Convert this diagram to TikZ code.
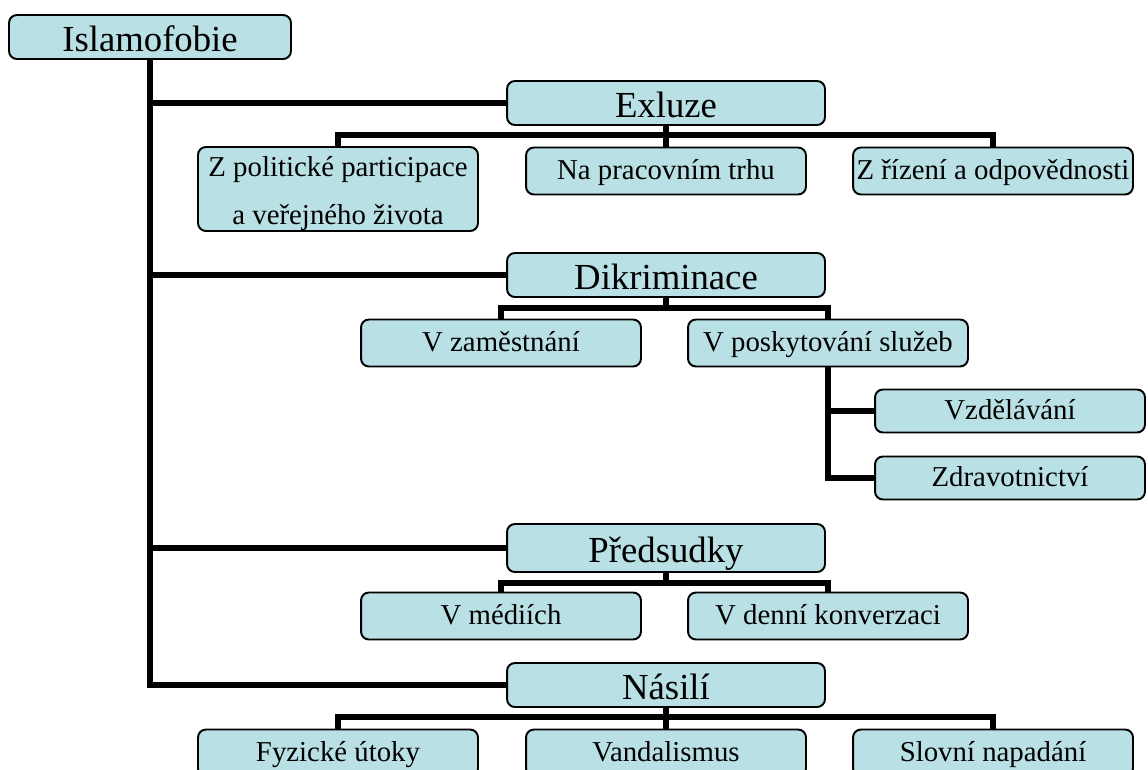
\documentclass[tikz,border=0pt]{standalone}
\usepackage{fontspec}
\setmainfont{Liberation Serif}
\definecolor{boxfill}{RGB}{185,224,228}

\begin{document}
\begin{tikzpicture}[x=0.02cm, y=-0.02cm,
  box/.style={draw=black, line width=1.1pt, fill=boxfill, rounded corners=4.5pt, inner sep=0pt, align=center},
  big/.style={box, minimum width=6.36cm, minimum height=0.88cm, text height=17pt, text depth=0pt, font=\fontsize{20.9}{25}\selectfont},
  tall/.style={box, minimum width=5.6cm, minimum height=1.68cm, font=\fontsize{16.4}{27}\selectfont},
  small/.style={tall, minimum height=0.94cm, text height=10pt, text depth=0pt},
  link/.style={line width=3.2pt}]

\clip (0,0) rectangle (1148,769);

\node[big, minimum width=5.64cm] (root) at (150,37) {Islamofobie};

\node[big] (exl) at (666,103) {Exluze};
\node[tall] (ex1) at (338,189) {\raisebox{-6.5pt}[0pt][0pt]{Z politické participace}\\\raisebox{-6.5pt}[0pt][0pt]{a veřejného života}};
\node[small] (ex2) at (666,171) {Na pracovním trhu};
\node[small] (ex3) at (993,171) {Z řízení a odpovědnosti};
\coordinate (exbar) at (666,135);

\node[big] (dik) at (666,275) {Dikriminace};
\node[small] (dk1) at (501,343) {V zaměstnání};
\node[small] (dk2) at (828,343) {V poskytování služeb};
\node[small, minimum width=5.4cm, minimum height=0.86cm] (dk3) at (1010,411) {Vzdělávání};
\node[small, minimum width=5.4cm, minimum height=0.86cm] (dk4) at (1010,478) {Zdravotnictví};
\coordinate (dkbar) at (666,308);

\node[big, minimum height=0.96cm] (pre) at (666,548) {Předsudky};
\node[small] (pr1) at (501,616) {V médiích};
\node[small] (pr2) at (828,616) {V denní konverzaci};
\coordinate (prbar) at (666,583);

\node[big] (nas) at (666,685) {Násilí};
\node[small] (ns1) at (338,753) {Fyzické útoky};
\node[small] (ns2) at (666,753) {Vandalismus};
\node[small] (ns3) at (993,753) {Slovní napadání};
\coordinate (nsbar) at (666,717);

\draw[link] (root.south) |- (exl.west);
\draw[link] (root.south) |- (dik.west);
\draw[link] (root.south) |- (pre.west);
\draw[link] (root.south) |- (nas.west);

\draw[link] (exl.south) -- (ex2.north);
\draw[link] (ex1.north) |- (exbar) -| (ex3.north);

\draw[link] (dik.south) -- (dkbar);
\draw[link] (dk1.north) |- (dkbar) -| (dk2.north);
\draw[link] (dk2.south) |- (dk3.west);
\draw[link] (dk2.south) |- (dk4.west);

\draw[link] (pre.south) -- (prbar);
\draw[link] (pr1.north) |- (prbar) -| (pr2.north);

\draw[link] (nas.south) -- (ns2.north);
\draw[link] (ns1.north) |- (nsbar) -| (ns3.north);

\end{tikzpicture}
\end{document}
